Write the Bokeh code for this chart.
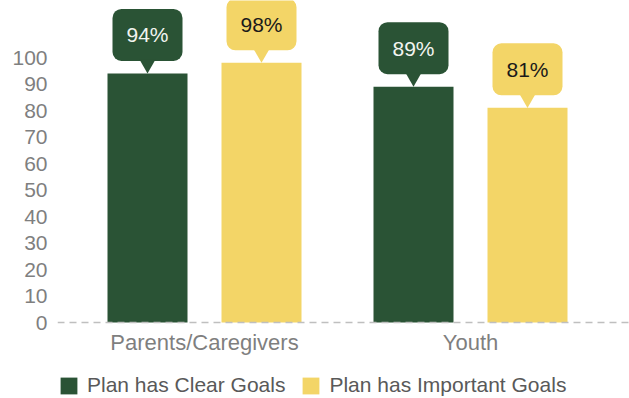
from bokeh.plotting import figure
from bokeh.models import ColumnDataSource, Range1d, FixedTicker, Span, Legend, LegendItem
from bokeh.core.properties import value
from bokeh.embed import file_html
from bokeh.resources import INLINE

categories = ["Parents/Caregivers", "Youth"]
series_names = ["Plan has Clear Goals", "Plan has Important Goals"]
clear_goals = [94, 89]
important_goals = [98, 81]
y_ticks = [0, 10, 20, 30, 40, 50, 60, 70, 80, 90, 100]

GREEN = "#2A5335"
YELLOW = "#F3D567"
FONT = "Liberation Sans"

W, H = 629, 398
BORDER_L = 57
frame_w = W - BORDER_L
frame_h = H
ppu = 2.65          # pixels per y-unit
zero_px = 322       # pixel row of the zero line
y_end = zero_px / ppu
y_start = y_end - frame_h / ppu
group_px = 266.0
x_start = -147 / group_px
x_end = x_start + frame_w / group_px
bar_w = 80 / group_px
off = 57 / group_px

p = figure(frame_width=frame_w, frame_height=frame_h, output_backend="svg",
           toolbar_location=None,
           x_range=Range1d(x_start, x_end), y_range=Range1d(y_start, y_end),
           min_border_left=BORDER_L, min_border_right=0, min_border_top=0,
           min_border_bottom=0)
p.outline_line_color = None
p.grid.visible = False
p.background_fill_color = "white"
p.border_fill_color = "white"

idx = list(range(len(categories)))
renderers = []
for vals, shift, color, txtcol in [(clear_goals, -off, GREEN, "#F2F5F0"),
                                   (important_goals, off, YELLOW, "#1A1A1A")]:
    xs = [i + shift for i in idx]
    src = ColumnDataSource(dict(
        x=xs, top=vals,
        box_y=[v + 38.5 / ppu for v in vals],
        tri_y=[v + 9.2 / ppu for v in vals],
        label=[f"{v}%" for v in vals]))
    r = p.vbar(x="x", top="top", bottom=0, width=bar_w, source=src,
               fill_color=color, line_color=None)
    renderers.append(r)
    p.rect(x="x", y="box_y", width=70, height=52, width_units="screen",
           height_units="screen", border_radius=9, source=src,
           fill_color=color, line_color=None)
    p.scatter(x="x", y="tri_y", marker="inverted_triangle", size=16, source=src,
              fill_color=color, line_color=None)
    p.text(x="x", y="box_y", text="label", source=src, text_align="center",
           text_baseline="middle", text_font=value(FONT), text_font_size="21px",
           text_color=txtcol)

p.add_layout(Span(location=0, dimension="width", line_color="#BFBFBF",
                  line_width=1.5, line_dash="7 5"))

# y axis
ya = p.yaxis[0]
ya.ticker = FixedTicker(ticks=y_ticks)
ya.axis_line_color = None
ya.major_tick_line_color = None
ya.minor_tick_line_color = None
ya.major_tick_out = 0
ya.major_tick_in = 0
ya.minor_tick_out = 0
ya.major_label_text_font = FONT
ya.major_label_text_font_size = "21px"
ya.major_label_text_color = "#7F7F7F"
ya.major_label_standoff = 10

# x axis drawn at the zero line
xa = p.xaxis[0]
xa.fixed_location = 0
xa.ticker = FixedTicker(ticks=idx)
xa.major_label_overrides = {i: c for i, c in zip(idx, categories)}
xa.axis_line_color = None
xa.major_tick_line_color = None
xa.minor_tick_line_color = None
xa.major_tick_out = 0
xa.major_tick_in = 0
xa.minor_tick_out = 0
xa.major_label_text_font = FONT
xa.major_label_text_font_size = "22px"
xa.major_label_text_color = "#7F7F7F"
xa.major_label_standoff = 7

legend = Legend(items=[LegendItem(label=n, renderers=[r]) for n, r in zip(series_names, renderers)],
                orientation="horizontal", location=(1, 1),
                label_text_font=FONT, label_text_font_size="21px",
                label_text_color="#595959", glyph_width=21, glyph_height=21,
                label_standoff=8, spacing=15, padding=0, margin=0,
                border_line_color=None, background_fill_alpha=0)
p.add_layout(legend, "center")

open("out.html", "w").write(file_html(p, INLINE))
